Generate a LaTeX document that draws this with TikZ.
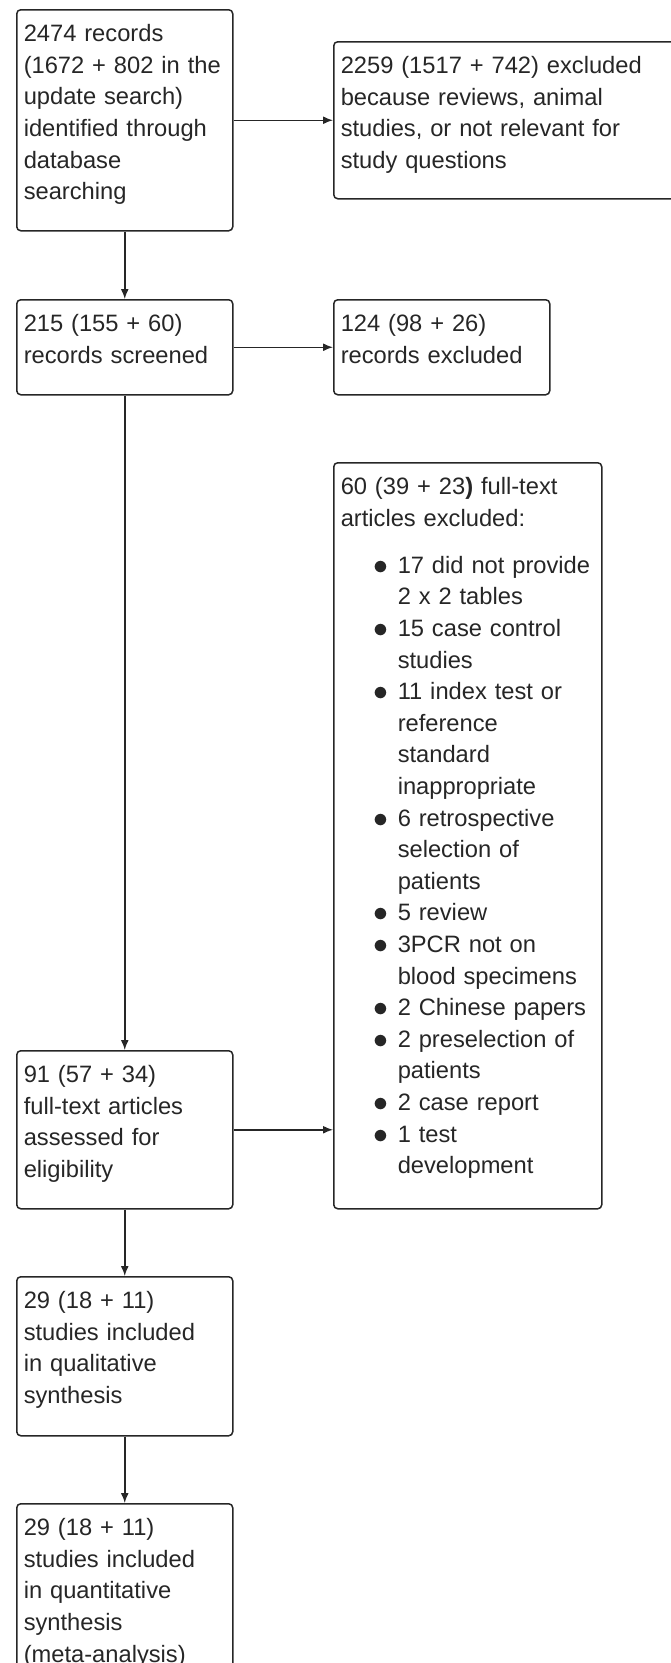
\documentclass[tikz,border=0pt]{standalone}
\usepackage{fontspec}
\usepackage{graphicx}
\setmainfont{Liberation Sans}
\usetikzlibrary{arrows.meta}
\tikzset{
  flow/.style={draw=black!85, line width=1.5pt, rounded corners=4pt, anchor=north west,
    inner xsep=7pt, inner ysep=0pt, align=left, text height=32pt,
    font=\fontsize{23.7pt}{31.6pt}\selectfont, text=black!85},
  link/.style={draw=black!85, line width=1.5pt, -{Latex[length=10pt,width=8pt]}}
}
\newcommand{\bul}{\hspace*{33pt}\makebox[24pt][l]{\raisebox{-1pt}{\scalebox{1.2}{$\bullet$}}}}
\newcommand{\ind}{\hspace*{57pt}}

\begin{document}
\begin{tikzpicture}[x=1pt, y=-1pt]
\useasboundingbox (0,0) rectangle (670,1663);
\node[flow, text width=202pt, text depth=189pt] (ID) at (16, 9) {2474 records\\(1672 + 802 in the\\update search)\\identified through\\database\\searching};
\node[flow, text width=331pt, text depth=125pt] (IDX) at (333, 41) {2259 (1517 + 742) excluded\\because reviews, animal\\studies, or not relevant for\\study questions};
\node[flow, text width=202pt, text depth=63pt] (SC) at (16, 299) {215 (155 + 60)\\records screened};
\node[flow, text width=202pt, text depth=63pt] (SCX) at (333, 299) {124 (98 + 26)\\records excluded};
\node[flow, text width=254pt, text depth=714pt] (ELX) at (333, 462) {60 (39 + 23\textbf{)} full-text\\articles excluded:\\[15.4pt]
  \bul 17 did not provide\\ \ind 2 x 2 tables\\
  \bul 15 case control\\ \ind studies\\
  \bul 11 index test or\\ \ind reference\\ \ind standard\\ \ind inappropriate\\
  \bul 6 retrospective\\ \ind selection of\\ \ind patients\\
  \bul 5 review\\
  \bul 3PCR not on\\ \ind blood specimens\\
  \bul 2 Chinese papers\\
  \bul 2 preselection of\\ \ind patients\\
  \bul 2 case report\\
  \bul 1 test\\ \ind development};
\node[flow, text width=202pt, text depth=126pt] (EL) at (16, 1050) {91 (57 + 34)\\full-text articles\\assessed for\\eligibility};
\node[flow, text width=202pt, text depth=127pt] (QL) at (16, 1276) {29 (18 + 11)\\studies included\\in qualitative\\synthesis};
\node[flow, text width=202pt, text depth=168pt] (QN) at (16, 1503) {29 (18 + 11)\\studies included\\in quantitative\\synthesis\\(meta-analysis)};
\draw[link] (ID) -- (IDX);
\draw[link] (SC) -- (SCX);
\draw[link] (EL.east) -- (EL.east -| ELX.west);
\draw[link] (ID) -- (SC);
\draw[link] (SC) -- (EL);
\draw[link] (EL) -- (QL);
\draw[link] (QL) -- (QN);
\end{tikzpicture}
\end{document}
